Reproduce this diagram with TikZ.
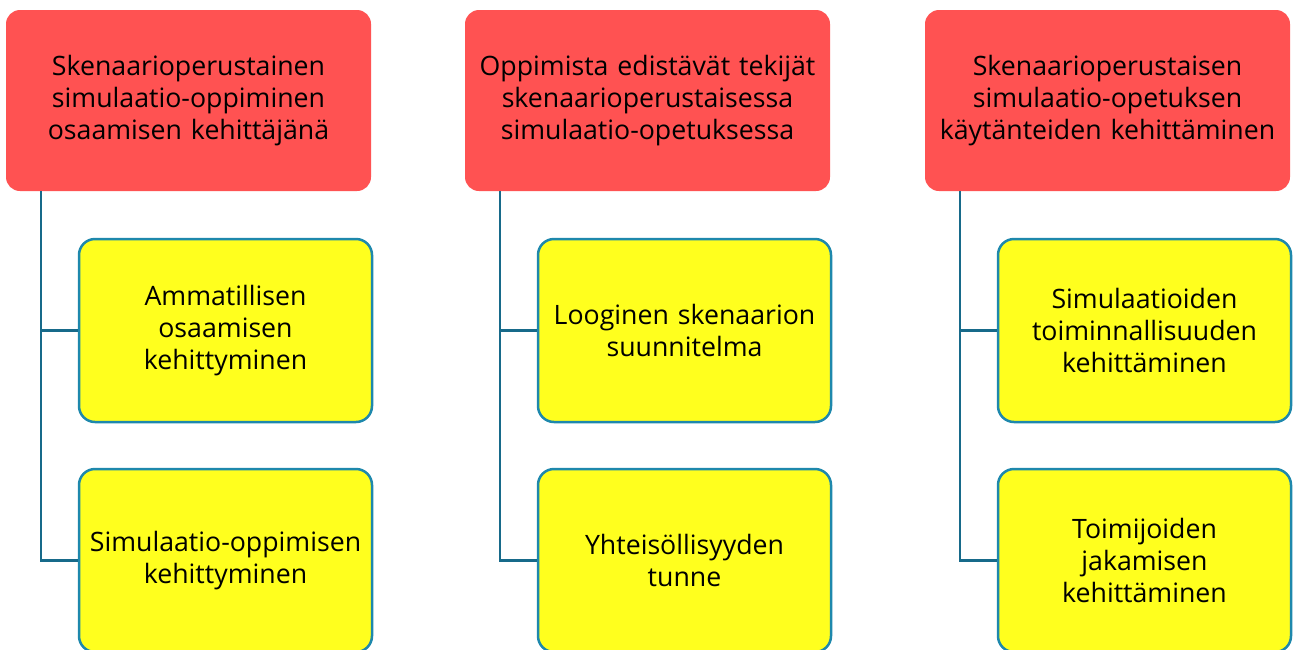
\documentclass[tikz,border=0pt]{standalone}
\usepackage{fontspec}
\setmainfont{Open Sans}
\definecolor{hdred}{HTML}{FF5252}
\definecolor{subyel}{HTML}{FFFF1E}
\definecolor{subbrd}{HTML}{1E88AC}
\definecolor{conn}{HTML}{176A8A}
\begin{document}
\begin{tikzpicture}[x=1pt,y=-1pt,
  every node/.style={font=\fontsize{26.7}{32}\selectfont, align=center, inner sep=0pt},
  head/.style={fill=hdred, rounded corners=14pt, minimum width=365pt, minimum height=181pt, text width=355pt},
  sub/.style={fill=subyel, draw=subbrd, line width=2.5pt, rounded corners=16pt, minimum width=293pt, minimum height=183pt, text width=285pt},
  link/.style={draw=conn, line width=2.5pt}]
\useasboundingbox (0,0) rectangle (1293,649);
% column 1
\node[head] (h1) at (188.5,100.5) {Skenaarioperustainen\\simulaatio-oppiminen\\osaamisen kehittäjänä};
\node[sub] (a1) at (225.5,330.5) {Ammatillisen\\osaamisen\\kehittyminen};
\node[sub] (a2) at (225.5,560.5) {Simulaatio-oppimisen\\kehittyminen};
\coordinate (t1) at (41,191);
\draw[link] (t1) |- (a2.west);
\draw[link] (41,330.5) -- (a1.west);
% column 2
\node[head] (h2) at (647.5,100.5) {Oppimista edistävät tekijät\\skenaarioperustaisessa\\simulaatio-opetuksessa};
\node[sub] (b1) at (684.5,330.5) {Looginen skenaarion\\suunnitelma};
\node[sub] (b2) at (684.5,560.5) {Yhteisöllisyyden\\tunne};
\coordinate (t2) at (500,191);
\draw[link] (t2) |- (b2.west);
\draw[link] (500,330.5) -- (b1.west);
% column 3
\node[head] (h3) at (1107.5,100.5) {Skenaarioperustaisen\\simulaatio-opetuksen\\käytänteiden kehittäminen};
\node[sub] (c1) at (1144.5,330.5) {Simulaatioiden\\toiminnallisuuden\\kehittäminen};
\node[sub] (c2) at (1144.5,560.5) {Toimijoiden\\jakamisen\\kehittäminen};
\coordinate (t3) at (960,191);
\draw[link] (t3) |- (c2.west);
\draw[link] (960,330.5) -- (c1.west);
\end{tikzpicture}
\end{document}
